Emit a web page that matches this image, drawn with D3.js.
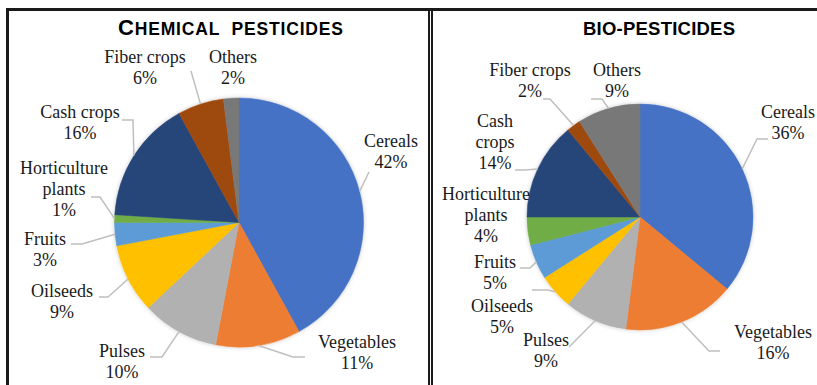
<!DOCTYPE html>
<html>
<head>
<meta charset="utf-8">
<script src="https://cdn.jsdelivr.net/npm/d3@7"></script>
<style>
  html, body { margin: 0; padding: 0; background: #fff; }
  svg { display: block; }
</style>
</head>
<body>
<svg id="chart" width="817" height="385"></svg>
<script>
// ---------- DATA ----------
const categories = ["Cereals", "Vegetables", "Pulses", "Oilseeds", "Fruits",
  "Horticulture plants", "Cash crops", "Fiber crops", "Others"];
const chemicalValues = [42, 11, 10, 9, 3, 1, 16, 6, 2];
const bioValues = [36, 16, 9, 5, 5, 4, 14, 2, 9];
const sliceColors = ["#4472C4", "#ED7D31", "#B1B1B1", "#FFC000", "#5B9BD5",
  "#70AD47", "#264478", "#9E480E", "#787878"];

// ---------- LAYOUT (positions only) ----------
const panels = [
  {
    values: chemicalValues,
    cx: 239, cy: 222.5, r: 124.5,
    lines: [["Cereals"], ["Vegetables"], ["Pulses"], ["Oilseeds"], ["Fruits"],
            ["Horticulture", "plants"], ["Cash crops"], ["Fiber crops"], ["Others"]],
    labelPos: [[391,147],[357,348],[122,357],[62,297],[45,245],[64,174],[80,118],[145,63],[233,63]],
    leaders: [[[369,172]], [[305,357],[293,357]], [[150,357],[162,357]], [[99,297],[108,297]],
              [[71,244],[82,244]], [[91,197],[100,197]], [[122,120],[133,120]], [[191,71]], null]
  },
  {
    values: bioValues,
    cx: 640, cy: 217, r: 113,
    lines: [["Cereals"], ["Vegetables"], ["Pulses"], ["Oilseeds"], ["Fruits"],
            ["Horticulture", "plants"], ["Cash", "crops"], ["Fiber crops"], ["Others"]],
    labelPos: [[788,118],[773,338],[546,346],[502,312],[495,268],[486,200],[495,127],[530,76],[617,76]],
    leaders: [[[768,139],[757,139]], [[720,351],[709,351]], [[569,347]], [[532,290],[548,290]],
              [[520,268],[530,268]], null, [[515,170],[525,170]], [[543,99],[550,99]], [[591,99],[602,99]]]
  }
];

const svg = d3.select("#chart");

// shadow filter
const defs = svg.append("defs");
const f = defs.append("filter").attr("id", "shadow").attr("x", "-20%").attr("y", "-20%")
  .attr("width", "140%").attr("height", "140%");
f.append("feDropShadow").attr("dx", 0).attr("dy", 0).attr("stdDeviation", 2)
  .attr("flood-color", "#000").attr("flood-opacity", 0.22);

// frame
svg.append("line").attr("x1", 6).attr("x2", 817).attr("y1", 9.5).attr("y2", 9.5)
  .attr("stroke", "#1a1a1a").attr("stroke-width", 3);
svg.append("line").attr("x1", 7.5).attr("x2", 7.5).attr("y1", 8).attr("y2", 385)
  .attr("stroke", "#1a1a1a").attr("stroke-width", 3);
[429, 432].forEach(x => svg.append("line").attr("x1", x).attr("x2", x)
  .attr("y1", 8).attr("y2", 385).attr("stroke", "#1a1a1a").attr("stroke-width", 2));

// titles
const t1 = svg.append("text").attr("x", 118).attr("y", 35)
  .attr("font-family", "Liberation Sans, Arial, sans-serif").attr("font-weight", "bold")
  .attr("fill", "#000").attr("textLength", 225).attr("lengthAdjust", "spacing");
t1.append("tspan").attr("font-size", 22).text("C");
t1.append("tspan").attr("font-size", 17.5).text("HEMICAL\u00a0\u00a0PESTICIDES");

svg.append("text").attr("x", 583).attr("y", 35)
  .attr("font-family", "Liberation Sans, Arial, sans-serif").attr("font-weight", "bold")
  .attr("font-size", 18.5).attr("fill", "#000")
  .attr("textLength", 152).attr("lengthAdjust", "spacing").text("BIO-PESTICIDES");

const pie = d3.pie().sort(null).value(d => d);

panels.forEach(p => {
  const g = svg.append("g");
  const arcs = pie(p.values);
  const arc = d3.arc().innerRadius(0).outerRadius(p.r);

  g.append("g").attr("transform", `translate(${p.cx},${p.cy})`).attr("filter", "url(#shadow)")
    .selectAll("path").data(arcs).join("path")
    .attr("d", arc)
    .attr("fill", (d, i) => sliceColors[i])
    .attr("stroke", (d, i) => sliceColors[i])
    .attr("stroke-width", 0.5);

  // leader lines
  arcs.forEach((d, i) => {
    const pts = p.leaders[i];
    if (!pts) return;
    const mid = (d.startAngle + d.endAngle) / 2;
    const edge = [p.cx + p.r * Math.sin(mid), p.cy - p.r * Math.cos(mid)];
    const all = pts.concat([edge]);
    g.append("path").attr("d", d3.line()(all))
      .attr("fill", "none").attr("stroke", "#BFBFBF").attr("stroke-width", 1.5);
  });

  // labels
  arcs.forEach((d, i) => {
    const [x, y] = p.labelPos[i];
    const lines = p.lines[i].concat([d.data + "%"]);
    const t = g.append("text").attr("x", x).attr("y", y).attr("text-anchor", "middle")
      .attr("font-family", "Liberation Serif, 'Times New Roman', serif")
      .attr("font-size", 18).attr("fill", "#1a1a1a");
    lines.forEach((s, k) => {
      t.append("tspan").attr("x", x).attr("dy", k === 0 ? 0 : 21).text(s);
    });
  });
});
</script>
</body>
</html>
